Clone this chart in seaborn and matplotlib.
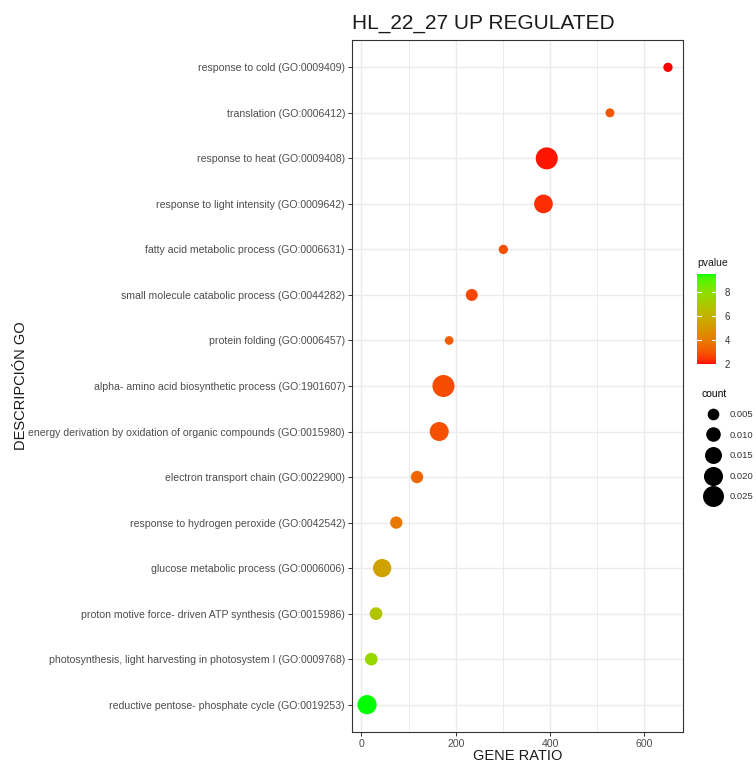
import numpy as np
import pandas as pd
import matplotlib
matplotlib.use("Agg")
import matplotlib.pyplot as plt
from matplotlib.colors import ListedColormap, Normalize
from matplotlib.lines import Line2D
import matplotlib.colorbar as mcolorbar
import seaborn as sns

# ---------------- data ----------------
terms = [
    "response to cold (GO:0009409)",
    "translation (GO:0006412)",
    "response to heat (GO:0009408)",
    "response to light intensity (GO:0009642)",
    "fatty acid metabolic process (GO:0006631)",
    "small molecule catabolic process (GO:0044282)",
    "protein folding (GO:0006457)",
    "alpha- amino acid biosynthetic process (GO:1901607)",
    "energy derivation by oxidation of organic compounds (GO:0015980)",
    "electron transport chain (GO:0022900)",
    "response to hydrogen peroxide (GO:0042542)",
    "glucose metabolic process (GO:0006006)",
    "proton motive force- driven ATP synthesis (GO:0015986)",
    "photosynthesis, light harvesting in photosystem I (GO:0009768)",
    "reductive pentose- phosphate cycle (GO:0019253)",
]
gene_ratio = [650, 527, 393, 386, 301, 234, 186, 174, 165, 118, 74, 44, 31, 21, 12]
pvalue = [2.0, 3.0, 2.1, 2.3, 2.9, 2.7, 3.2, 2.8, 2.9, 3.4, 3.9, 5.4, 6.8, 7.6, 9.47]
count = [0.0017, 0.0013, 0.028, 0.0191, 0.0017, 0.0055, 0.0010, 0.028, 0.0199,
         0.0060, 0.0060, 0.0181, 0.0066, 0.0066, 0.0206]
count_breaks = [0.005, 0.010, 0.015, 0.020, 0.025]
pvalue_ticks = [2, 4, 6, 8]
x_ticks = [0, 200, 400, 600]

df = pd.DataFrame({"term": terms, "ratio": gene_ratio, "pvalue": pvalue, "count": count})

# ---------------- colormap: red -> green interpolated in CIELAB ----------------
def _srgb_to_lin(c):
    c = np.asarray(c, float)
    return np.where(c <= 0.04045, c / 12.92, ((c + 0.055) / 1.055) ** 2.4)

def _lin_to_srgb(c):
    c = np.clip(c, 0, 1)
    return np.where(c <= 0.0031308, 12.92 * c, 1.055 * c ** (1 / 2.4) - 0.055)

M = np.array([[0.4124, 0.3576, 0.1805], [0.2126, 0.7152, 0.0722], [0.0193, 0.1192, 0.9505]])
WHITE = np.array([0.95047, 1.0, 1.08883])

def rgb_to_lab(rgb):
    xyz = M @ _srgb_to_lin(rgb) / WHITE
    f = np.where(xyz > 216 / 24389, np.cbrt(xyz), (24389 / 27 * xyz + 16) / 116)
    return np.array([116 * f[1] - 16, 500 * (f[0] - f[1]), 200 * (f[1] - f[2])])

def lab_to_rgb(lab):
    L, a, b = lab
    fy = (L + 16) / 116
    fx = fy + a / 500
    fz = fy - b / 200
    f = np.array([fx, fy, fz])
    xyz = np.where(f ** 3 > 216 / 24389, f ** 3, (116 * f - 16) / (24389 / 27)) * WHITE
    return np.clip(_lin_to_srgb(np.linalg.solve(M, xyz)), 0, 1)

lab_lo = rgb_to_lab([1, 0, 0])
lab_hi = rgb_to_lab([0, 1, 0])
cmap = ListedColormap([lab_to_rgb(lab_lo + t * (lab_hi - lab_lo)) for t in np.linspace(0, 1, 256)])
pnorm = Normalize(vmin=min(pvalue), vmax=max(pvalue))

# ---------------- figure ----------------
DPI = 100
fig = plt.figure(figsize=(7.56, 7.62), dpi=DPI)
plt.rcParams["font.family"] = ["Liberation Sans", "DejaVu Sans"]
ax = fig.add_axes([352 / 756, 1 - 732 / 762, (683 - 352) / 756, (732 - 40) / 762])

# size mapping (area linear in count)
px2pt = 72 / DPI
smin = (8.7 * px2pt) ** 2
smax = (22.0 * px2pt) ** 2
cmin, cmax = 0.001, 0.028

sns.scatterplot(data=df, x="ratio", y="term", hue="pvalue", size="count",
                palette=cmap, hue_norm=pnorm, sizes=(smin, smax), size_norm=(cmin, cmax),
                legend=False, linewidth=0, alpha=1, ax=ax, zorder=3)

n = len(terms)
ax.set_ylim(n - 1 + 0.6, -0.6)
rng = max(gene_ratio) - min(gene_ratio)
ax.set_xlim(min(gene_ratio) - 0.05 * rng, max(gene_ratio) + 0.05 * rng)
ax.set_xticks(x_ticks)
ax.set_xticks([100, 300, 500], minor=True)
ax.set_yticks(range(n))
ax.set_yticklabels(terms)

ax.set_facecolor("white")
ax.grid(True, which="major", color="#EBEBEB", lw=1.0, zorder=0)
ax.grid(True, which="minor", axis="x", color="#EBEBEB", lw=0.7, zorder=0)
ax.set_axisbelow(True)
for sp in ax.spines.values():
    sp.set_color("#333333")
    sp.set_linewidth(0.8)
ax.tick_params(axis="both", which="major", length=3, width=0.7, color="#333333",
               labelsize=7.55, labelcolor="#4D4D4D", pad=2)
ax.tick_params(axis="x", which="minor", length=0)

ax.set_xlabel("GENE RATIO", fontsize=10.5, color="#1A1A1A", labelpad=0)
ax.set_ylabel("DESCRIPCIÓN GO", fontsize=10.5, color="#1A1A1A")
ax.yaxis.set_label_coords(-324 / 331, 0.5)
ax.set_title("HL_22_27 UP REGULATED", loc="left", fontsize=15, color="#1A1A1A", pad=8)

# ---------------- colour bar legend ----------------
cax = fig.add_axes([697 / 756, 1 - 364 / 762, 19 / 756, 90 / 762])
cb = mcolorbar.ColorbarBase(cax, cmap=cmap, norm=pnorm, orientation="vertical")
cb.outline.set_visible(False)
cb.set_ticks(pvalue_ticks)
cax.tick_params(length=0, labelsize=7, labelcolor="#333333", pad=6)
for t in pvalue_ticks:
    cax.plot([0, 0.2], [t, t], color="white", lw=0.8, transform=cax.get_yaxis_transform())
    cax.plot([0.8, 1], [t, t], color="white", lw=0.8, transform=cax.get_yaxis_transform())
fig.text(697 / 756, 1 - 263 / 762, "pvalue", fontsize=7.5, color="#1A1A1A", va="center", ha="left")

# ---------------- size legend ----------------
def size_of(c):
    return smin + (c - cmin) / (cmax - cmin) * (smax - smin)

handles = [Line2D([], [], marker="o", ls="", color="black", markeredgewidth=0,
                  markersize=np.sqrt(size_of(c))) for c in count_breaks]
labels = [f"{c:.3f}" for c in count_breaks]
leg = fig.legend(handles, labels, title="count", loc="upper left",
                 bbox_to_anchor=(697 / 756, 1 - 384 / 762), frameon=False,
                 fontsize=6.8, title_fontsize=7.5, labelspacing=1.22,
                 handletextpad=0.6, borderpad=0, handlelength=2.4, labelcolor="#333333")
leg._legend_box.align = "left"

fig.savefig("out.png", dpi=DPI, facecolor="white")
